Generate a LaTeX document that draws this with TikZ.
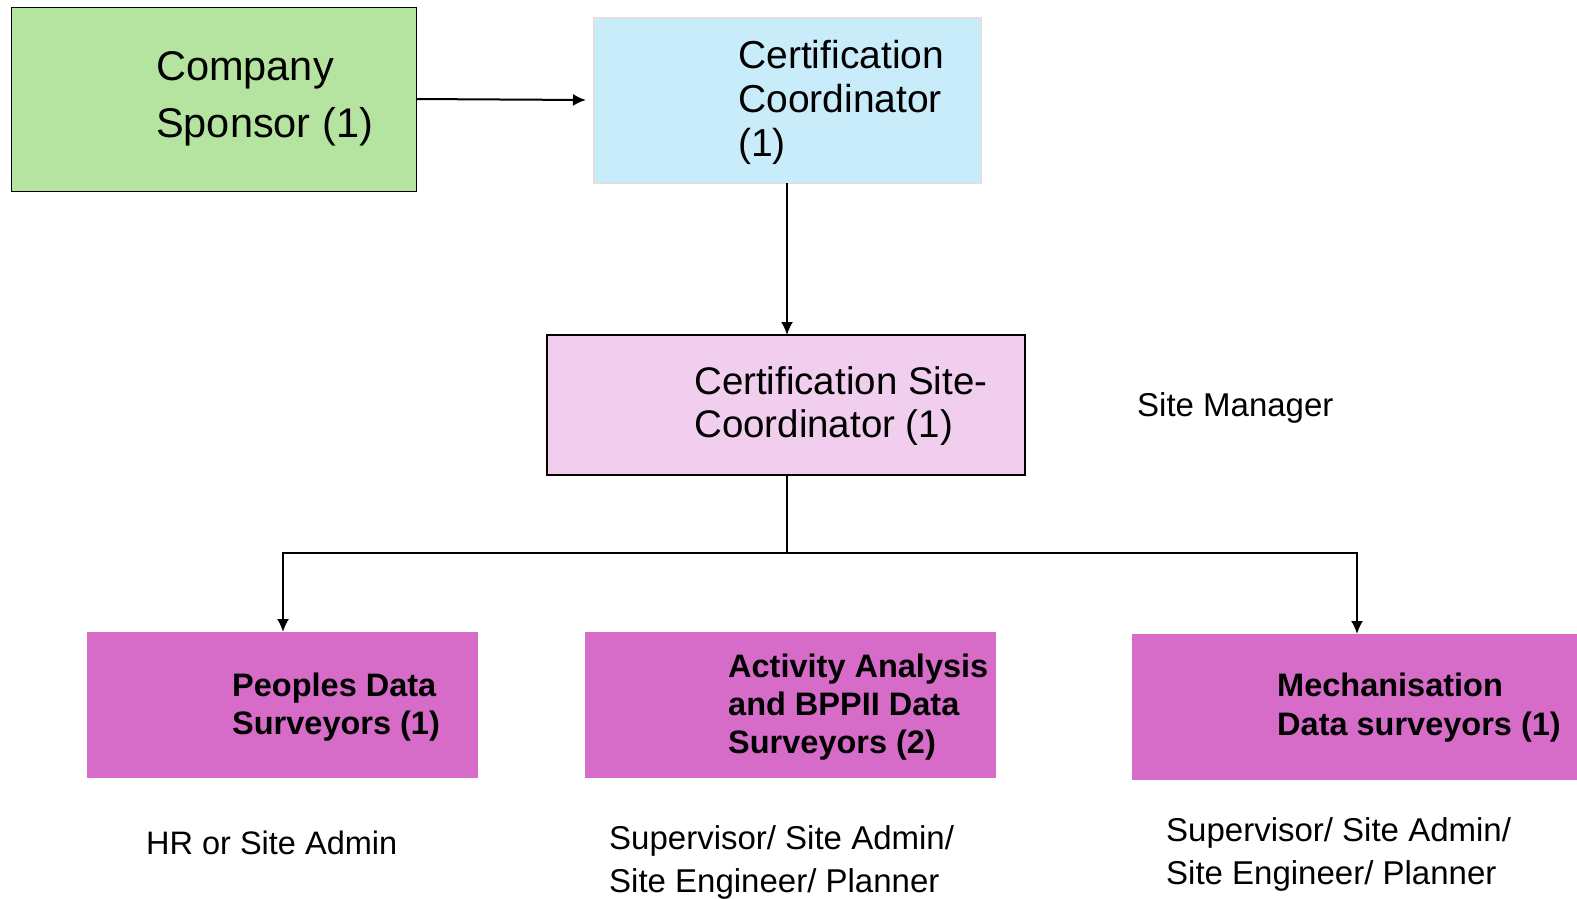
\documentclass[tikz,border=0pt]{standalone}
\usepackage{fontspec}
\setmainfont{Liberation Sans}
\usetikzlibrary{arrows.meta}
\definecolor{sgreen}{RGB}{181,228,160}
\definecolor{sblue}{RGB}{201,236,250}
\definecolor{sbluebd}{RGB}{245,214,205}
\definecolor{spink}{RGB}{241,206,238}
\definecolor{smag}{RGB}{214,108,200}
\tikzset{
  box/.style={anchor=north west, inner sep=0pt, outer sep=0pt},
  lbl/.style={anchor=west, inner sep=0pt, align=left},
  conn/.style={line width=2pt, -{Latex[length=13pt,width=12pt]}},
  plain/.style={line width=2pt},
}
\begin{document}
\begin{tikzpicture}[x=1pt,y=-1pt]
\useasboundingbox (0,0) rectangle (1577,898);
% boxes
\node[box, fill=sgreen, draw=black, line width=1pt, minimum width=405pt, minimum height=184pt] (sp) at (11,7) {};
\node[box, fill=sblue, draw=sbluebd, line width=1pt, minimum width=388pt, minimum height=166pt] (cc) at (593,17) {};
\node[box, fill=spink, draw=black, line width=1.8pt, minimum width=478pt, minimum height=140pt] (sc) at (547,335) {};
\node[box, fill=smag, minimum width=391pt, minimum height=146pt] (pd) at (87,632) {};
\node[box, fill=smag, minimum width=411pt, minimum height=146pt] (aa) at (585,632) {};
\node[box, fill=smag, minimum width=450pt, minimum height=146pt] (md) at (1132,634) {};
% texts
\node[lbl, font=\fontsize{41.5}{57}\selectfont] (spt) at (156,99) {Company\\Sponsor (1)};
\node[lbl, font=\fontsize{39}{44}\selectfont] (cct) at (738,102) {Certification\\Coordinator\\(1)};
\node[lbl, font=\fontsize{38.5}{43}\selectfont] (sct) at (694,406) {Certification Site-\\Coordinator (1)};
\node[lbl, font=\fontsize{33}{40}\selectfont] (sm) at (1137,408) {Site Manager};
\node[lbl, font=\bfseries\fontsize{32.5}{38}\selectfont] (pdt) at (232,707) {Peoples Data\\Surveyors (1)};
\node[lbl, font=\bfseries\fontsize{32.5}{38}\selectfont] (aat) at (728,707) {Activity Analysis\\and BPPII Data\\Surveyors (2)};
\node[lbl, font=\bfseries\fontsize{32.5}{39}\selectfont] (mdt) at (1277,708) {Mechanisation\\Data surveyors (1)};
\node[lbl, font=\fontsize{32.5}{43}\selectfont] (hr) at (146,843) {HR or Site Admin};
\node[lbl, font=\fontsize{33}{43}\selectfont] (sv1) at (609,862) {Supervisor/ Site Admin/\\Site Engineer/ Planner};
\node[lbl, font=\fontsize{33}{43}\selectfont] (sv2) at (1166,854) {Supervisor/ Site Admin/\\Site Engineer/ Planner};
% connectors
\coordinate (ccin) at (586,100);
\coordinate (j) at (787,553);
\draw[conn] (sp.east |- 0,99) -- (ccin);
\draw[conn] (cc.south -| 787,0) -- (sc.north -| 787,0);
\draw[plain] (sc.south -| 787,0) -- (j);
\draw[conn] (j) -- (283,553) -- (pd.north -| 283,0);
\draw[conn] (j) -- (1357,553) -- (md.north -| 1357,0);
\end{tikzpicture}
\end{document}
